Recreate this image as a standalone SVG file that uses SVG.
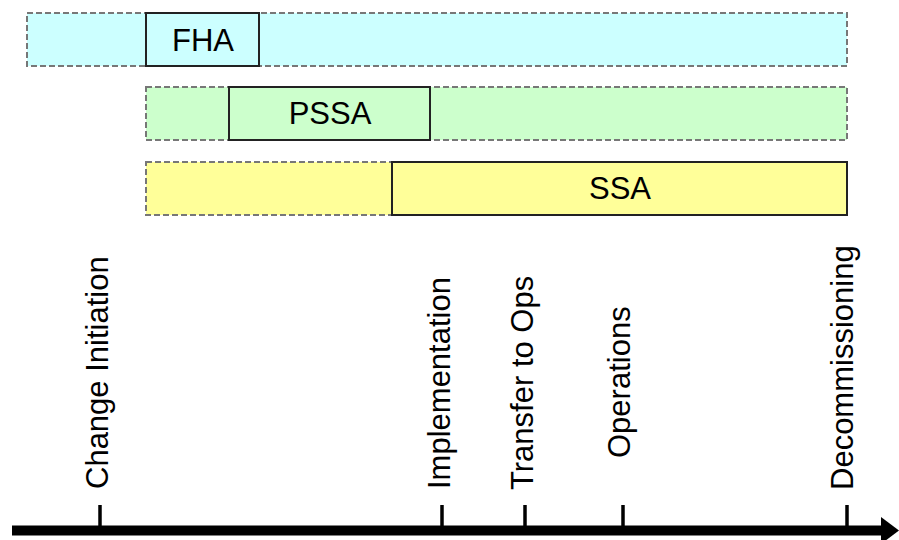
<svg xmlns="http://www.w3.org/2000/svg" width="899" height="540" viewBox="0 0 899 540">
<style>
.dash{stroke:#777;stroke-width:2;stroke-dasharray:6 3}
.solid{stroke:#222;stroke-width:2}
.cy{fill:#ccffff}.gr{fill:#ccffcc}.ye{fill:#ffff99}
text{font-family:"Liberation Sans",Arial,sans-serif;font-size:31px;fill:#000}
.c{text-anchor:middle}
.tick{stroke:#000;stroke-width:3.5}
</style>
<rect width="899" height="540" fill="#fff"/>
<g id="fha-span"><rect class="dash cy" x="27" y="13" width="820" height="53"/></g>
<g id="fha"><rect class="solid cy" x="146" y="13" width="113" height="53"/><text class="c" x="203" y="51">FHA</text></g>
<g id="pssa-span"><rect class="dash gr" x="146" y="87" width="701" height="53"/></g>
<g id="pssa"><rect class="solid gr" x="229" y="87" width="201" height="53"/><text class="c" x="330" y="124">PSSA</text></g>
<g id="ssa-span"><rect class="dash ye" x="146" y="162" width="246" height="53"/></g>
<g id="ssa"><rect class="solid ye" x="392" y="162" width="455" height="53"/><text class="c" x="620" y="199">SSA</text></g>
<g id="connectors">
<line x1="12" y1="530.5" x2="884" y2="530.5" stroke="#000" stroke-width="10"/>
<polygon points="881,517 899,530.5 881,544" fill="#000"/>
<line class="tick" x1="100" y1="505" x2="100" y2="528"/>
<line class="tick" x1="442" y1="505" x2="442" y2="528"/>
<line class="tick" x1="525" y1="505" x2="525" y2="528"/>
<line class="tick" x1="623" y1="505" x2="623" y2="528"/>
<line class="tick" x1="847" y1="505" x2="847" y2="528"/>
</g>
<g id="label-change"><text transform="translate(108,489) rotate(-90)">Change Initiation</text></g>
<g id="label-impl"><text transform="translate(450,489) rotate(-90)">Implementation</text></g>
<g id="label-transfer"><text transform="translate(533,490) rotate(-90)">Transfer to Ops</text></g>
<g id="label-ops"><text transform="translate(630,458) rotate(-90)">Operations</text></g>
<g id="label-decom"><text transform="translate(853,490) rotate(-90)">Decommissioning</text></g>
</svg>
